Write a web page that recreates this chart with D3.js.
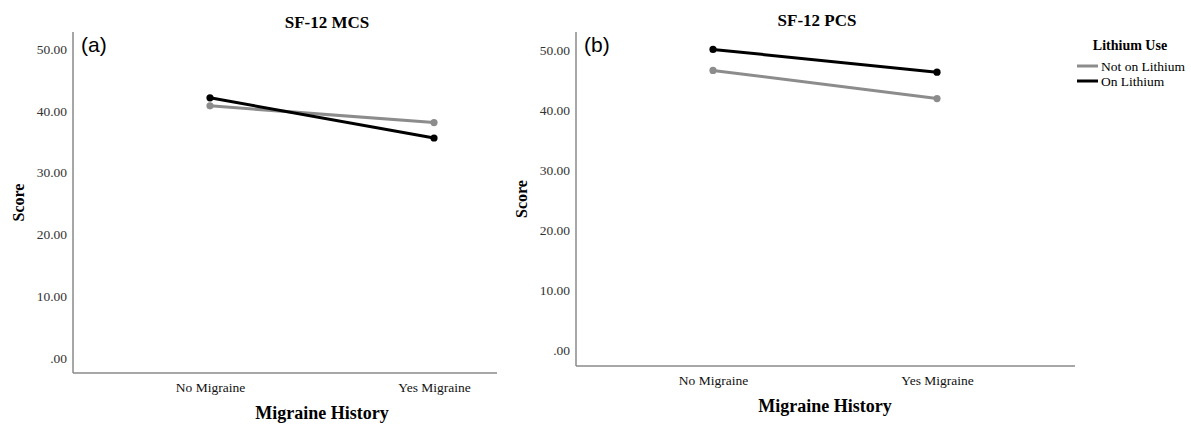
<!DOCTYPE html>
<html>
<head>
<meta charset="utf-8">
<script src="https://cdn.jsdelivr.net/npm/d3@7"></script>
<style>
body{margin:0;background:#fff;}
svg{display:block;}
</style>
</head>
<body>
<svg id="chart" width="1191" height="424"></svg>
<script>
const categories = ["No Migraine", "Yes Migraine"];
const seriesNames = ["Not on Lithium", "On Lithium"];
const mcsNotOnLithium = [40.8, 38.1];
const mcsOnLithium = [42.1, 35.6];
const pcsNotOnLithium = [46.6, 41.9];
const pcsOnLithium = [50.1, 46.3];
const tickValues = [0, 10, 20, 30, 40, 50];
const tickLabels = [".00", "10.00", "20.00", "30.00", "40.00", "50.00"];
const seriesColors = ["#8c8c8c", "#000000"];

const SERIF = '"Liberation Serif","Times New Roman",serif';
const SANS = '"Liberation Sans",Arial,sans-serif';
const svg = d3.select("#chart");

const panels = [
  {tag:"(a)", title:"SF-12 MCS", series:[mcsNotOnLithium, mcsOnLithium],
   left:73, right:497, top:32, bottom:373, yMin:-2.43, yMax:52.75,
   titleX:327, titleY:28, tagX:81, scoreX:24, catY:391, xTitleY:419},
  {tag:"(b)", title:"SF-12 PCS", series:[pcsNotOnLithium, pcsOnLithium],
   left:576, right:1075, top:32, bottom:366, yMin:-2.67, yMax:53,
   titleX:817, titleY:26, tagX:584, scoreX:527, catY:383, xTitleY:412}
];

panels.forEach(p => {
  const g = svg.append("g");
  const y = d3.scaleLinear().domain([p.yMin, p.yMax]).range([p.bottom, p.top]);
  const x = d3.scalePoint().domain(categories).range([p.left + 137, p.left + 361]);

  // y axis
  const yAxis = d3.axisLeft(y).tickValues(tickValues)
    .tickFormat((d,i) => tickLabels[i]).tickSize(0).tickPadding(6);
  const ya = g.append("g").attr("transform", `translate(${p.left},0)`).call(yAxis);
  ya.select(".domain").remove();
  ya.selectAll("text").style("font-size", "13.5px").style("fill", "#333")
    .style("font-family", SERIF);

  // x axis
  const xAxis = d3.axisBottom(x).tickSize(0).tickPadding(9);
  const xa = g.append("g").attr("transform", `translate(0,${p.bottom})`).call(xAxis);
  xa.select(".domain").remove();
  xa.selectAll("text").style("font-size", "13.5px").style("fill", "#111")
    .style("font-family", SERIF);

  // axis lines
  g.append("line").attr("x1", p.left).attr("x2", p.left).attr("y1", p.top).attr("y2", p.bottom)
    .attr("stroke", "#8a8a8a").attr("stroke-width", 1.5);
  g.append("line").attr("x1", p.left).attr("x2", p.right).attr("y1", p.bottom).attr("y2", p.bottom)
    .attr("stroke", "#8a8a8a").attr("stroke-width", 1.5);

  // series
  const line = d3.line().x((d,i) => x(categories[i])).y(d => y(d));
  p.series.forEach((vals, si) => {
    g.append("path").datum(vals).attr("d", line).attr("fill", "none")
      .attr("stroke", seriesColors[si]).attr("stroke-width", 3);
    g.selectAll(null).data(vals).enter().append("circle")
      .attr("cx", (d,i) => x(categories[i])).attr("cy", d => y(d)).attr("r", 3.6)
      .attr("fill", seriesColors[si]);
  });

  // titles
  g.append("text").attr("x", p.titleX).attr("y", p.titleY).attr("text-anchor", "middle")
    .style("font-family", SERIF).style("font-size", "17px").style("font-weight", "bold").text(p.title);
  g.append("text").attr("x", p.tagX).attr("y", 52)
    .style("font-family", SANS).style("font-size", "21px").text(p.tag);
  const cx = (x(categories[0]) + x(categories[1])) / 2;
  g.append("text").attr("x", cx).attr("y", p.xTitleY).attr("text-anchor", "middle")
    .style("font-family", SERIF).style("font-size", "18px").style("font-weight", "bold").text("Migraine History");
  g.append("text").attr("transform", `translate(${p.scoreX},${(p.top + p.bottom)/2}) rotate(-90)`)
    .attr("text-anchor", "middle")
    .style("font-family", SERIF).style("font-size", "16px").style("font-weight", "bold").text("Score");
});

// legend
const lg = svg.append("g");
lg.append("text").attr("x", 1130).attr("y", 50).attr("text-anchor", "middle")
  .style("font-family", SERIF).style("font-size", "14px").style("font-weight", "bold").text("Lithium Use");
seriesNames.forEach((name, i) => {
  const yy = 66 + i * 15;
  lg.append("line").attr("x1", 1077).attr("x2", 1098).attr("y1", yy).attr("y2", yy)
    .attr("stroke", seriesColors[i]).attr("stroke-width", 3);
  lg.append("text").attr("x", 1101).attr("y", yy + 4.5)
    .style("font-family", SERIF).style("font-size", "13.5px").text(name);
});
</script>
</body>
</html>
